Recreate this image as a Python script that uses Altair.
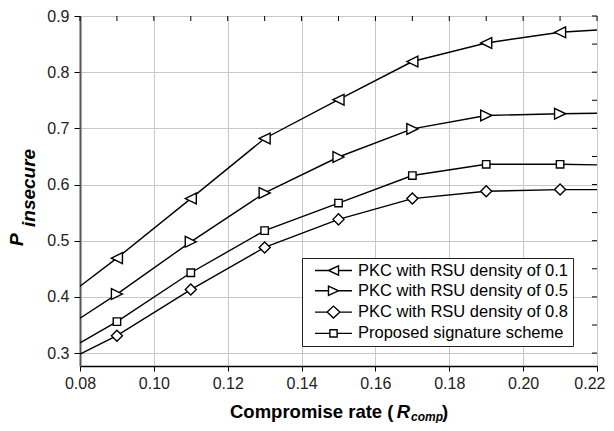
import altair as alt
import pandas as pd

# ---------------- data ----------------
series_names = [
    "PKC with RSU density of 0.1",
    "PKC with RSU density of 0.5",
    "PKC with RSU density of 0.8",
    "Proposed signature scheme",
]
x_vals = [0.08, 0.09, 0.11, 0.13, 0.15, 0.17, 0.19, 0.21, 0.22]
has_marker = [False, True, True, True, True, True, True, True, False]
pkc_01 = [0.419, 0.469, 0.575, 0.682, 0.751, 0.819, 0.852, 0.871, 0.875]
pkc_05 = [0.362, 0.405, 0.498, 0.585, 0.649, 0.699, 0.723, 0.726, 0.727]
pkc_08 = [0.298, 0.331, 0.413, 0.488, 0.538, 0.575, 0.588, 0.591, 0.591]
proposed = [0.318, 0.356, 0.443, 0.518, 0.567, 0.616, 0.636, 0.636, 0.635]

x_ticks = [0.08, 0.09, 0.10, 0.11, 0.12, 0.13, 0.14, 0.15, 0.16, 0.17, 0.18, 0.19, 0.20, 0.21, 0.22]
y_ticks = [0.30, 0.35, 0.40, 0.45, 0.50, 0.55, 0.60, 0.65, 0.70, 0.75, 0.80, 0.85, 0.90]

rows = []
for name, vals in zip(series_names, [pkc_01, pkc_05, pkc_08, proposed]):
    for x, y, m in zip(x_vals, vals, has_marker):
        rows.append({"series": name, "x": x, "y": y, "marker": m})
df = pd.DataFrame(rows)

# ---------------- style ----------------
W, H = 517, 350
FONT = "Liberation Sans"

marker_paths = [
    "M-0.92,0L0.92,-0.9L0.92,0.9Z",
    "M0.92,0L-0.92,-0.9L-0.92,0.9Z",
    "M-0.92,0L0,-0.92L0.92,0L0,0.92Z",
    "M-0.62,-0.62L0.62,-0.62L0.62,0.62L-0.62,0.62Z",
]
legend_paths = [
    "M-2.47,0L-0.67,0M-0.67,0L0.67,-0.62L0.67,0.62ZM0.67,0L2.47,0",
    "M-2.47,0L-0.67,0M-0.67,-0.62L0.67,0L-0.67,0.62ZM0.67,0L2.47,0",
    "M-2.47,0L-0.85,0M-0.85,0L0,-0.8L0.85,0L0,0.8ZM0.85,0L2.47,0",
    "M-2.47,0L-0.48,0M-0.48,-0.48L0.48,-0.48L0.48,0.48L-0.48,0.48ZM0.48,0L2.47,0",
]

xscale = alt.Scale(domain=[0.08, 0.22], nice=False, zero=False)
yscale = alt.Scale(domain=[0.277, 0.9], nice=False, zero=False)

x_major = "abs(datum.value*50 - round(datum.value*50)) < 0.001"
y_major = "abs(datum.value*10 - round(datum.value*10)) < 0.001"
x_last = "datum.value > 0.215"

x_axis = alt.Axis(
    values=x_ticks,
    labelExpr=f"({x_major}) ? format(datum.value, '.2f') : ''",
    labelFont=FONT, labelFontSize=16, labelColor="#222",
    labelFlush=False, labelOverlap=False, labelPadding=4,
    labelAlign={"condition": {"test": x_last, "value": "right"}, "value": "center"},
    labelOffset={"condition": {"test": x_last, "value": 8}, "value": 0},
    tickColor="black", tickWidth=1,
    tickSize={"condition": {"test": x_major, "value": 5}, "value": 3},
    domainColor="black", domainWidth=1.5,
    grid=True, gridWidth=1,
    gridColor={"condition": {"test": x_major, "value": "#c8c8c8"}, "value": "#dadada"},
    gridDash={"condition": {"test": x_major, "value": []}, "value": [1, 2]},
)
y_axis = alt.Axis(
    values=y_ticks,
    labelExpr=f"({y_major}) ? format(datum.value, '.1f') : ''",
    labelFont=FONT, labelFontSize=16, labelColor="#222",
    labelFlush=False, labelOverlap=False, labelPadding=5,
    tickColor="black", tickWidth=1,
    tickSize={"condition": {"test": y_major, "value": 6}, "value": 3},
    domainColor="#555", domainWidth=2,
    grid=True, gridWidth=1,
    gridColor={"condition": {"test": y_major, "value": "#c8c8c8"}, "value": "#dadada"},
    gridDash={"condition": {"test": y_major, "value": []}, "value": [1, 2]},
)

lines = alt.Chart(df).mark_line(color="black", strokeWidth=1.4).encode(
    x=alt.X("x:Q", scale=xscale, axis=x_axis, title=None),
    y=alt.Y("y:Q", scale=yscale, axis=y_axis, title=None),
    detail="series:N",
)

points = alt.Chart(df).transform_filter("datum.marker").mark_point(
    filled=True, fill="white", stroke="black", strokeWidth=1.4, size=144, opacity=1
).encode(
    x=alt.X("x:Q", scale=xscale, title=None),
    y=alt.Y("y:Q", scale=yscale, title=None),
    shape=alt.Shape("series:N", scale=alt.Scale(domain=series_names, range=marker_paths), legend=None),
)

legend_layer = alt.Chart(df).transform_filter("false").mark_point(
    filled=False, color="black", strokeWidth=1.4, size=225, opacity=1
).encode(
    x=alt.X("x:Q", scale=xscale, title=None),
    y=alt.Y("y:Q", scale=yscale, title=None),
    shape=alt.Shape(
        "series:N",
        scale=alt.Scale(domain=series_names, range=legend_paths),
        legend=alt.Legend(
            title=None, orient="none", legendX=222, legendY=242,
            labelFont=FONT, labelFontSize=16.5, labelColor="black", labelLimit=400,
            symbolSize=225, symbolStrokeWidth=1.4, symbolFillColor="white",
            symbolStrokeColor="black", symbolOffset=19, labelOffset=16,
            padding=4, rowPadding=3.3, strokeColor="#222", fillColor="white",
            cornerRadius=0,
        ),
    ),
)

top_ticks = alt.Chart(pd.DataFrame({"x": x_ticks})).mark_rule(color="black", strokeWidth=1).encode(
    x=alt.X("x:Q", scale=xscale, title=None), y=alt.value(0), y2=alt.value(5)
)
right_ticks = alt.Chart(pd.DataFrame({"y": y_ticks})).mark_rule(color="black", strokeWidth=1).encode(
    y=alt.Y("y:Q", scale=yscale, title=None), x=alt.value(W), x2=alt.value(W - 5)
)


def label(text, x, y, size, italic=False, angle=0):
    return alt.Chart(pd.DataFrame({"t": [text]})).mark_text(
        align="left", baseline="alphabetic", font=FONT, fontSize=size,
        fontWeight="bold", fontStyle="italic" if italic else "normal",
        color="black", angle=angle,
    ).encode(x=alt.value(x), y=alt.value(y), text="t:N")


titles = [
    label("Compromise rate (", 150, 402, 18.5),
    label("R", 316.7, 402, 18.5, italic=True),
    label("comp", 331, 404.5, 12, italic=True),
    label(")", 362, 402, 18.5),
    label("P", -57, 230, 19, italic=True, angle=270),
    label("insecure", -45.5, 211, 19, italic=True, angle=270),
]

chart = alt.layer(
    lines, points, legend_layer, top_ticks, right_ticks, *titles
).resolve_scale(shape="independent").properties(
    width=W, height=H,
    padding={"left": 72, "top": 8, "right": 9, "bottom": 57},
    autosize=alt.AutoSizeParams(type="none"),
).configure_view(stroke="black", strokeWidth=1).configure(background="white")

chart.save("out.html", embed_options={"renderer": "svg", "actions": False})
